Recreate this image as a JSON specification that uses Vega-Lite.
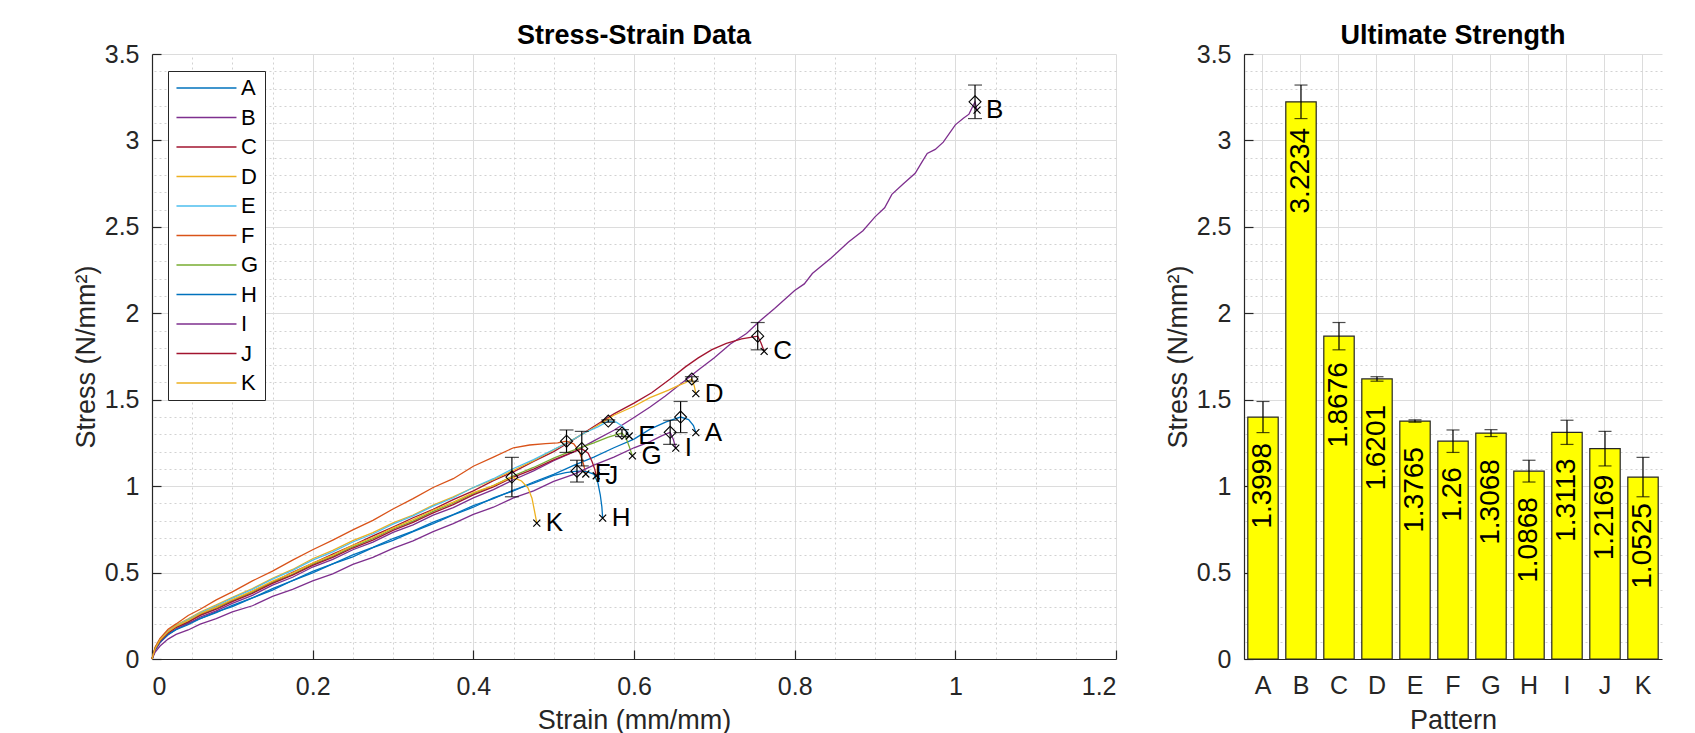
{
  "$schema": "https://vega.github.io/schema/vega-lite/v6.json",
  "background": "white",
  "padding": {"left": 72, "top": 22, "right": 5, "bottom": 0},
  "bounds": "flush",
  "spacing": 128,
  "config": {
    "font": "Liberation Sans",
    "view": {"stroke": null},
    "title": {"fontSize": 27, "fontWeight": "bold", "color": "#000000", "baseline": "alphabetic", "offset": -8, "anchor": "middle"},
    "axis": {
      "labelFont": "Liberation Sans", "labelFontSize": 25, "labelColor": "#262626",
      "titleFont": "Liberation Sans", "titleFontSize": 27, "titleFontWeight": "normal", "titleColor": "#262626",
      "domainColor": "#262626", "domainWidth": 1.2, "tickColor": "#262626", "tickWidth": 1.2, "tickSize": -9,
      "gridColor": "#dcdcdc", "gridWidth": 1
    }
  },
  "datasets": {
    "curves": [
      {"p":"A","strain":0,"stress":0},{"p":"A","strain":0.004,"stress":0.055},{"p":"A","strain":0.01,"stress":0.1},{"p":"A","strain":0.02,"stress":0.145},{"p":"A","strain":0.03,"stress":0.172},{"p":"A","strain":0.045,"stress":0.207},{"p":"A","strain":0.06,"stress":0.233},{"p":"A","strain":0.08,"stress":0.272},{"p":"A","strain":0.1,"stress":0.303},{"p":"A","strain":0.125,"stress":0.354},{"p":"A","strain":0.15,"stress":0.398},{"p":"A","strain":0.175,"stress":0.454},{"p":"A","strain":0.2,"stress":0.498},{"p":"A","strain":0.225,"stress":0.55},{"p":"A","strain":0.25,"stress":0.591},{"p":"A","strain":0.275,"stress":0.644},{"p":"A","strain":0.3,"stress":0.686},{"p":"A","strain":0.325,"stress":0.737},{"p":"A","strain":0.35,"stress":0.783},{"p":"A","strain":0.375,"stress":0.834},{"p":"A","strain":0.4,"stress":0.878},{"p":"A","strain":0.425,"stress":0.932},{"p":"A","strain":0.45,"stress":0.973},{"p":"A","strain":0.475,"stress":1.024},{"p":"A","strain":0.5,"stress":1.068},{"p":"A","strain":0.525,"stress":1.12},{"p":"A","strain":0.55,"stress":1.168},{"p":"A","strain":0.575,"stress":1.222},{"p":"A","strain":0.6,"stress":1.272},{"p":"A","strain":0.62,"stress":1.33},{"p":"A","strain":0.64,"stress":1.372},{"p":"A","strain":0.658,"stress":1.3998},{"p":"A","strain":0.668,"stress":1.385},{"p":"A","strain":0.674,"stress":1.35},{"p":"A","strain":0.677,"stress":1.31},
      {"p":"B","strain":0,"stress":0},{"p":"B","strain":0.004,"stress":0.05},{"p":"B","strain":0.01,"stress":0.095},{"p":"B","strain":0.02,"stress":0.14},{"p":"B","strain":0.03,"stress":0.172},{"p":"B","strain":0.045,"stress":0.203},{"p":"B","strain":0.06,"stress":0.242},{"p":"B","strain":0.08,"stress":0.278},{"p":"B","strain":0.1,"stress":0.322},{"p":"B","strain":0.125,"stress":0.368},{"p":"B","strain":0.15,"stress":0.427},{"p":"B","strain":0.175,"stress":0.473},{"p":"B","strain":0.2,"stress":0.532},{"p":"B","strain":0.225,"stress":0.576},{"p":"B","strain":0.25,"stress":0.632},{"p":"B","strain":0.275,"stress":0.676},{"p":"B","strain":0.3,"stress":0.732},{"p":"B","strain":0.325,"stress":0.776},{"p":"B","strain":0.35,"stress":0.832},{"p":"B","strain":0.375,"stress":0.876},{"p":"B","strain":0.4,"stress":0.932},{"p":"B","strain":0.425,"stress":0.98},{"p":"B","strain":0.45,"stress":1.037},{"p":"B","strain":0.475,"stress":1.088},{"p":"B","strain":0.5,"stress":1.147},{"p":"B","strain":0.525,"stress":1.198},{"p":"B","strain":0.55,"stress":1.262},{"p":"B","strain":0.575,"stress":1.323},{"p":"B","strain":0.6,"stress":1.397},{"p":"B","strain":0.62,"stress":1.458},{"p":"B","strain":0.639,"stress":1.522},{"p":"B","strain":0.66,"stress":1.598},{"p":"B","strain":0.68,"stress":1.672},{"p":"B","strain":0.7,"stress":1.743},{"p":"B","strain":0.72,"stress":1.822},{"p":"B","strain":0.74,"stress":1.883},{"p":"B","strain":0.757,"stress":1.957},{"p":"B","strain":0.775,"stress":2.028},{"p":"B","strain":0.8,"stress":2.132},{"p":"B","strain":0.812,"stress":2.17},{"p":"B","strain":0.822,"stress":2.23},{"p":"B","strain":0.845,"stress":2.318},{"p":"B","strain":0.867,"stress":2.412},{"p":"B","strain":0.885,"stress":2.478},{"p":"B","strain":0.9,"stress":2.558},{"p":"B","strain":0.912,"stress":2.61},{"p":"B","strain":0.921,"stress":2.688},{"p":"B","strain":0.935,"stress":2.748},{"p":"B","strain":0.95,"stress":2.81},{"p":"B","strain":0.958,"stress":2.872},{"p":"B","strain":0.965,"stress":2.925},{"p":"B","strain":0.975,"stress":2.948},{"p":"B","strain":0.985,"stress":2.99},{"p":"B","strain":1.0,"stress":3.09},{"p":"B","strain":1.01,"stress":3.128},{"p":"B","strain":1.017,"stress":3.152},{"p":"B","strain":1.0245,"stress":3.2234},{"p":"B","strain":1.027,"stress":3.175},
      {"p":"C","strain":0,"stress":0},{"p":"C","strain":0.004,"stress":0.06},{"p":"C","strain":0.01,"stress":0.11},{"p":"C","strain":0.02,"stress":0.16},{"p":"C","strain":0.03,"stress":0.188},{"p":"C","strain":0.045,"stress":0.227},{"p":"C","strain":0.06,"stress":0.258},{"p":"C","strain":0.08,"stress":0.302},{"p":"C","strain":0.1,"stress":0.338},{"p":"C","strain":0.125,"stress":0.392},{"p":"C","strain":0.15,"stress":0.443},{"p":"C","strain":0.175,"stress":0.502},{"p":"C","strain":0.2,"stress":0.553},{"p":"C","strain":0.225,"stress":0.607},{"p":"C","strain":0.25,"stress":0.658},{"p":"C","strain":0.275,"stress":0.712},{"p":"C","strain":0.3,"stress":0.763},{"p":"C","strain":0.325,"stress":0.817},{"p":"C","strain":0.35,"stress":0.866},{"p":"C","strain":0.375,"stress":0.922},{"p":"C","strain":0.4,"stress":0.973},{"p":"C","strain":0.425,"stress":1.032},{"p":"C","strain":0.45,"stress":1.083},{"p":"C","strain":0.475,"stress":1.143},{"p":"C","strain":0.5,"stress":1.2},{"p":"C","strain":0.525,"stress":1.27},{"p":"C","strain":0.55,"stress":1.345},{"p":"C","strain":0.575,"stress":1.418},{"p":"C","strain":0.6,"stress":1.48},{"p":"C","strain":0.622,"stress":1.54},{"p":"C","strain":0.645,"stress":1.62},{"p":"C","strain":0.664,"stress":1.69},{"p":"C","strain":0.68,"stress":1.742},{"p":"C","strain":0.697,"stress":1.79},{"p":"C","strain":0.715,"stress":1.826},{"p":"C","strain":0.734,"stress":1.852},{"p":"C","strain":0.747,"stress":1.862},{"p":"C","strain":0.754,"stress":1.8676},{"p":"C","strain":0.758,"stress":1.83},{"p":"C","strain":0.762,"stress":1.78},
      {"p":"D","strain":0,"stress":0},{"p":"D","strain":0.004,"stress":0.065},{"p":"D","strain":0.01,"stress":0.115},{"p":"D","strain":0.02,"stress":0.165},{"p":"D","strain":0.03,"stress":0.197},{"p":"D","strain":0.045,"stress":0.233},{"p":"D","strain":0.06,"stress":0.272},{"p":"D","strain":0.08,"stress":0.313},{"p":"D","strain":0.1,"stress":0.357},{"p":"D","strain":0.125,"stress":0.408},{"p":"D","strain":0.15,"stress":0.467},{"p":"D","strain":0.175,"stress":0.518},{"p":"D","strain":0.2,"stress":0.58},{"p":"D","strain":0.225,"stress":0.628},{"p":"D","strain":0.25,"stress":0.685},{"p":"D","strain":0.275,"stress":0.731},{"p":"D","strain":0.3,"stress":0.787},{"p":"D","strain":0.325,"stress":0.833},{"p":"D","strain":0.35,"stress":0.89},{"p":"D","strain":0.375,"stress":0.938},{"p":"D","strain":0.4,"stress":0.992},{"p":"D","strain":0.425,"stress":1.038},{"p":"D","strain":0.45,"stress":1.092},{"p":"D","strain":0.475,"stress":1.148},{"p":"D","strain":0.5,"stress":1.21},{"p":"D","strain":0.525,"stress":1.272},{"p":"D","strain":0.55,"stress":1.338},{"p":"D","strain":0.575,"stress":1.41},{"p":"D","strain":0.6,"stress":1.462},{"p":"D","strain":0.62,"stress":1.512},{"p":"D","strain":0.643,"stress":1.556},{"p":"D","strain":0.655,"stress":1.582},{"p":"D","strain":0.664,"stress":1.598},{"p":"D","strain":0.672,"stress":1.6201},{"p":"D","strain":0.675,"stress":1.58},{"p":"D","strain":0.677,"stress":1.535},
      {"p":"E","strain":0,"stress":0},{"p":"E","strain":0.004,"stress":0.065},{"p":"E","strain":0.01,"stress":0.115},{"p":"E","strain":0.02,"stress":0.16},{"p":"E","strain":0.03,"stress":0.192},{"p":"E","strain":0.045,"stress":0.228},{"p":"E","strain":0.06,"stress":0.267},{"p":"E","strain":0.08,"stress":0.308},{"p":"E","strain":0.1,"stress":0.352},{"p":"E","strain":0.125,"stress":0.403},{"p":"E","strain":0.15,"stress":0.462},{"p":"E","strain":0.175,"stress":0.513},{"p":"E","strain":0.2,"stress":0.572},{"p":"E","strain":0.225,"stress":0.62},{"p":"E","strain":0.25,"stress":0.677},{"p":"E","strain":0.275,"stress":0.723},{"p":"E","strain":0.3,"stress":0.78},{"p":"E","strain":0.325,"stress":0.828},{"p":"E","strain":0.35,"stress":0.884},{"p":"E","strain":0.375,"stress":0.933},{"p":"E","strain":0.4,"stress":0.992},{"p":"E","strain":0.425,"stress":1.043},{"p":"E","strain":0.45,"stress":1.102},{"p":"E","strain":0.475,"stress":1.153},{"p":"E","strain":0.5,"stress":1.212},{"p":"E","strain":0.52,"stress":1.258},{"p":"E","strain":0.54,"stress":1.312},{"p":"E","strain":0.555,"stress":1.343},{"p":"E","strain":0.568,"stress":1.3765},{"p":"E","strain":0.578,"stress":1.37},{"p":"E","strain":0.586,"stress":1.345},{"p":"E","strain":0.591,"stress":1.315},{"p":"E","strain":0.594,"stress":1.29},
      {"p":"F","strain":0,"stress":0},{"p":"F","strain":0.004,"stress":0.07},{"p":"F","strain":0.01,"stress":0.12},{"p":"F","strain":0.02,"stress":0.172},{"p":"F","strain":0.03,"stress":0.203},{"p":"F","strain":0.045,"stress":0.252},{"p":"F","strain":0.06,"stress":0.288},{"p":"F","strain":0.08,"stress":0.342},{"p":"F","strain":0.1,"stress":0.388},{"p":"F","strain":0.125,"stress":0.452},{"p":"F","strain":0.15,"stress":0.508},{"p":"F","strain":0.175,"stress":0.572},{"p":"F","strain":0.2,"stress":0.632},{"p":"F","strain":0.225,"stress":0.688},{"p":"F","strain":0.25,"stress":0.747},{"p":"F","strain":0.275,"stress":0.802},{"p":"F","strain":0.3,"stress":0.868},{"p":"F","strain":0.325,"stress":0.928},{"p":"F","strain":0.35,"stress":0.992},{"p":"F","strain":0.375,"stress":1.043},{"p":"F","strain":0.4,"stress":1.115},{"p":"F","strain":0.425,"stress":1.168},{"p":"F","strain":0.45,"stress":1.222},{"p":"F","strain":0.47,"stress":1.238},{"p":"F","strain":0.49,"stress":1.246},{"p":"F","strain":0.505,"stress":1.25},{"p":"F","strain":0.516,"stress":1.26},{"p":"F","strain":0.525,"stress":1.245},{"p":"F","strain":0.532,"stress":1.2},{"p":"F","strain":0.537,"stress":1.13},{"p":"F","strain":0.54,"stress":1.07},
      {"p":"G","strain":0,"stress":0},{"p":"G","strain":0.004,"stress":0.06},{"p":"G","strain":0.01,"stress":0.108},{"p":"G","strain":0.02,"stress":0.152},{"p":"G","strain":0.03,"stress":0.184},{"p":"G","strain":0.045,"stress":0.216},{"p":"G","strain":0.06,"stress":0.254},{"p":"G","strain":0.08,"stress":0.293},{"p":"G","strain":0.1,"stress":0.337},{"p":"G","strain":0.125,"stress":0.385},{"p":"G","strain":0.15,"stress":0.442},{"p":"G","strain":0.175,"stress":0.49},{"p":"G","strain":0.2,"stress":0.547},{"p":"G","strain":0.225,"stress":0.594},{"p":"G","strain":0.25,"stress":0.649},{"p":"G","strain":0.275,"stress":0.696},{"p":"G","strain":0.3,"stress":0.752},{"p":"G","strain":0.325,"stress":0.798},{"p":"G","strain":0.35,"stress":0.854},{"p":"G","strain":0.375,"stress":0.901},{"p":"G","strain":0.4,"stress":0.957},{"p":"G","strain":0.425,"stress":1.003},{"p":"G","strain":0.45,"stress":1.06},{"p":"G","strain":0.475,"stress":1.108},{"p":"G","strain":0.5,"stress":1.162},{"p":"G","strain":0.52,"stress":1.2},{"p":"G","strain":0.535,"stress":1.226},{"p":"G","strain":0.55,"stress":1.25},{"p":"G","strain":0.568,"stress":1.284},{"p":"G","strain":0.585,"stress":1.3068},{"p":"G","strain":0.59,"stress":1.28},{"p":"G","strain":0.594,"stress":1.23},{"p":"G","strain":0.598,"stress":1.175},
      {"p":"H","strain":0,"stress":0},{"p":"H","strain":0.004,"stress":0.055},{"p":"H","strain":0.01,"stress":0.098},{"p":"H","strain":0.02,"stress":0.14},{"p":"H","strain":0.03,"stress":0.17},{"p":"H","strain":0.045,"stress":0.198},{"p":"H","strain":0.06,"stress":0.234},{"p":"H","strain":0.08,"stress":0.268},{"p":"H","strain":0.1,"stress":0.31},{"p":"H","strain":0.125,"stress":0.353},{"p":"H","strain":0.15,"stress":0.407},{"p":"H","strain":0.175,"stress":0.453},{"p":"H","strain":0.2,"stress":0.507},{"p":"H","strain":0.225,"stress":0.55},{"p":"H","strain":0.25,"stress":0.602},{"p":"H","strain":0.275,"stress":0.646},{"p":"H","strain":0.3,"stress":0.697},{"p":"H","strain":0.325,"stress":0.74},{"p":"H","strain":0.35,"stress":0.792},{"p":"H","strain":0.375,"stress":0.836},{"p":"H","strain":0.4,"stress":0.887},{"p":"H","strain":0.425,"stress":0.928},{"p":"H","strain":0.45,"stress":0.977},{"p":"H","strain":0.475,"stress":1.018},{"p":"H","strain":0.5,"stress":1.062},{"p":"H","strain":0.515,"stress":1.078},{"p":"H","strain":0.529,"stress":1.0868},{"p":"H","strain":0.54,"stress":1.085},{"p":"H","strain":0.55,"stress":1.07},{"p":"H","strain":0.555,"stress":1.02},{"p":"H","strain":0.558,"stress":0.95},{"p":"H","strain":0.56,"stress":0.88},{"p":"H","strain":0.561,"stress":0.815},
      {"p":"I","strain":0,"stress":0},{"p":"I","strain":0.004,"stress":0.04},{"p":"I","strain":0.01,"stress":0.075},{"p":"I","strain":0.02,"stress":0.115},{"p":"I","strain":0.03,"stress":0.142},{"p":"I","strain":0.045,"stress":0.168},{"p":"I","strain":0.06,"stress":0.202},{"p":"I","strain":0.08,"stress":0.233},{"p":"I","strain":0.1,"stress":0.272},{"p":"I","strain":0.125,"stress":0.308},{"p":"I","strain":0.15,"stress":0.362},{"p":"I","strain":0.175,"stress":0.403},{"p":"I","strain":0.2,"stress":0.452},{"p":"I","strain":0.225,"stress":0.493},{"p":"I","strain":0.25,"stress":0.547},{"p":"I","strain":0.275,"stress":0.588},{"p":"I","strain":0.3,"stress":0.64},{"p":"I","strain":0.325,"stress":0.683},{"p":"I","strain":0.35,"stress":0.737},{"p":"I","strain":0.375,"stress":0.783},{"p":"I","strain":0.4,"stress":0.837},{"p":"I","strain":0.425,"stress":0.878},{"p":"I","strain":0.45,"stress":0.932},{"p":"I","strain":0.475,"stress":0.973},{"p":"I","strain":0.5,"stress":1.027},{"p":"I","strain":0.525,"stress":1.068},{"p":"I","strain":0.55,"stress":1.122},{"p":"I","strain":0.575,"stress":1.168},{"p":"I","strain":0.6,"stress":1.222},{"p":"I","strain":0.62,"stress":1.258},{"p":"I","strain":0.635,"stress":1.292},{"p":"I","strain":0.645,"stress":1.3113},{"p":"I","strain":0.649,"stress":1.27},{"p":"I","strain":0.652,"stress":1.22},
      {"p":"J","strain":0,"stress":0},{"p":"J","strain":0.004,"stress":0.06},{"p":"J","strain":0.01,"stress":0.105},{"p":"J","strain":0.02,"stress":0.15},{"p":"J","strain":0.03,"stress":0.182},{"p":"J","strain":0.045,"stress":0.213},{"p":"J","strain":0.06,"stress":0.252},{"p":"J","strain":0.08,"stress":0.288},{"p":"J","strain":0.1,"stress":0.332},{"p":"J","strain":0.125,"stress":0.38},{"p":"J","strain":0.15,"stress":0.437},{"p":"J","strain":0.175,"stress":0.485},{"p":"J","strain":0.2,"stress":0.542},{"p":"J","strain":0.225,"stress":0.588},{"p":"J","strain":0.25,"stress":0.642},{"p":"J","strain":0.275,"stress":0.688},{"p":"J","strain":0.3,"stress":0.744},{"p":"J","strain":0.325,"stress":0.79},{"p":"J","strain":0.35,"stress":0.845},{"p":"J","strain":0.375,"stress":0.893},{"p":"J","strain":0.4,"stress":0.949},{"p":"J","strain":0.425,"stress":0.996},{"p":"J","strain":0.45,"stress":1.052},{"p":"J","strain":0.475,"stress":1.098},{"p":"J","strain":0.5,"stress":1.152},{"p":"J","strain":0.52,"stress":1.19},{"p":"J","strain":0.535,"stress":1.2169},{"p":"J","strain":0.543,"stress":1.19},{"p":"J","strain":0.548,"stress":1.14},{"p":"J","strain":0.551,"stress":1.1},{"p":"J","strain":0.553,"stress":1.06},
      {"p":"K","strain":0,"stress":0},{"p":"K","strain":0.004,"stress":0.06},{"p":"K","strain":0.01,"stress":0.11},{"p":"K","strain":0.02,"stress":0.158},{"p":"K","strain":0.03,"stress":0.19},{"p":"K","strain":0.045,"stress":0.223},{"p":"K","strain":0.06,"stress":0.262},{"p":"K","strain":0.08,"stress":0.3},{"p":"K","strain":0.1,"stress":0.344},{"p":"K","strain":0.125,"stress":0.393},{"p":"K","strain":0.15,"stress":0.45},{"p":"K","strain":0.175,"stress":0.498},{"p":"K","strain":0.2,"stress":0.555},{"p":"K","strain":0.225,"stress":0.601},{"p":"K","strain":0.25,"stress":0.657},{"p":"K","strain":0.275,"stress":0.703},{"p":"K","strain":0.3,"stress":0.759},{"p":"K","strain":0.325,"stress":0.806},{"p":"K","strain":0.35,"stress":0.862},{"p":"K","strain":0.375,"stress":0.908},{"p":"K","strain":0.4,"stress":0.962},{"p":"K","strain":0.425,"stress":1.003},{"p":"K","strain":0.448,"stress":1.0525},{"p":"K","strain":0.46,"stress":1.03},{"p":"K","strain":0.468,"stress":0.99},{"p":"K","strain":0.473,"stress":0.93},{"p":"K","strain":0.476,"stress":0.86},{"p":"K","strain":0.479,"stress":0.786}
    ],
    "summary": [
      {"p":"A","ult":1.3998,"lo":1.3098,"hi":1.4898,"us":0.658,"es":0.677,"et":1.31,"lab":"1.3998"},
      {"p":"B","ult":3.2234,"lo":3.1264,"hi":3.3204,"us":1.0245,"es":1.027,"et":3.175,"lab":"3.2234"},
      {"p":"C","ult":1.8676,"lo":1.7886,"hi":1.9466,"us":0.754,"es":0.762,"et":1.78,"lab":"1.8676"},
      {"p":"D","ult":1.6201,"lo":1.6071,"hi":1.6331,"us":0.672,"es":0.677,"et":1.535,"lab":"1.6201"},
      {"p":"E","ult":1.3765,"lo":1.3695,"hi":1.3835,"us":0.568,"es":0.594,"et":1.29,"lab":"1.3765"},
      {"p":"F","ult":1.26,"lo":1.195,"hi":1.325,"us":0.516,"es":0.54,"et":1.07,"lab":"1.26"},
      {"p":"G","ult":1.3068,"lo":1.2868,"hi":1.3268,"us":0.585,"es":0.598,"et":1.175,"lab":"1.3068"},
      {"p":"H","ult":1.0868,"lo":1.0238,"hi":1.1498,"us":0.529,"es":0.561,"et":0.815,"lab":"1.0868"},
      {"p":"I","ult":1.3113,"lo":1.2413,"hi":1.3813,"us":0.645,"es":0.652,"et":1.22,"lab":"1.3113"},
      {"p":"J","ult":1.2169,"lo":1.1169,"hi":1.3169,"us":0.535,"es":0.553,"et":1.06,"lab":"1.2169"},
      {"p":"K","ult":1.0525,"lo":0.9385,"hi":1.1665,"us":0.448,"es":0.479,"et":0.786,"lab":"1.0525"}
    ]
  },
  "hconcat": [
    {
      "width": 964,
      "height": 605,
      "title": "Stress-Strain Data",
      "resolve": {"axis": {"x": "independent", "y": "independent"}},
      "layer": [
        {
          "data": {"name": "curves"},
          "mark": {"type": "line", "strokeWidth": 1.3},
          "encoding": {
            "x": {"field": "strain", "type": "quantitative",
              "scale": {"domain": [0, 1.2], "nice": false, "zero": false},
              "axis": {"orient": "bottom", "values": [0, 0.2, 0.4, 0.6, 0.8, 1, 1.2], "format": "~g", "title": "Strain (mm/mm)", "grid": true, "labelPadding": 24, "titlePadding": 8}},
            "y": {"field": "stress", "type": "quantitative",
              "scale": {"domain": [0, 3.5], "nice": false, "zero": false},
              "axis": {"orient": "left", "values": [0, 0.5, 1, 1.5, 2, 2.5, 3, 3.5], "format": "~g", "title": "Stress (N/mm²)", "grid": true, "labelPadding": 22, "titlePadding": 4}},
            "color": {"field": "p", "type": "nominal",
              "scale": {"domain": ["A","B","C","D","E","F","G","H","I","J","K"], "range": ["#0072BD","#7E2F8E","#A2142F","#EDB120","#4DBEEE","#D95319","#77AC30","#0072BD","#7E2F8E","#A2142F","#EDB120"]},
              "legend": {"orient": "none", "legendX": 16, "legendY": 17, "title": null, "direction": "vertical", "columns": 1,
                "symbolType": "M-1.42,0H8.58", "symbolSize": 144, "symbolStrokeWidth": 1.5, "symbolFillColor": "transparent",
                "labelFontSize": 22, "labelColor": "#000000", "labelOffset": 45, "rowPadding": 7.5,
                "strokeColor": "#262626", "fillColor": "#ffffff", "padding": 6}}
          }
        },
        {
          "data": {"name": "summary"},
          "mark": {"type": "rule", "color": "#000000", "strokeWidth": 1.2},
          "encoding": {
            "x": {"field": "us", "type": "quantitative",
              "axis": {"orient": "top", "values": [0.05,0.1,0.15,0.25,0.3,0.35,0.45,0.5,0.55,0.65,0.7,0.75,0.85,0.9,0.95,1.05,1.1,1.15], "grid": true, "gridDash": [2,3], "gridColor": "#d2d2d2", "labels": false, "ticks": false, "domain": false, "title": null}},
            "y": {"field": "lo", "type": "quantitative",
              "axis": {"orient": "right", "values": [0.1,0.2,0.3,0.4,0.6,0.7,0.8,0.9,1.1,1.2,1.3,1.4,1.6,1.7,1.8,1.9,2.1,2.2,2.3,2.4,2.6,2.7,2.8,2.9,3.1,3.2,3.3,3.4], "grid": true, "gridDash": [2,3], "gridColor": "#d2d2d2", "labels": false, "ticks": false, "domain": false, "title": null}},
            "y2": {"field": "hi"}
          }
        },
        {
          "data": {"name": "summary"},
          "mark": {"type": "tick", "orient": "horizontal", "size": 14, "thickness": 1.2, "color": "#000000"},
          "encoding": {
            "x": {"field": "us", "type": "quantitative", "axis": null},
            "y": {"field": "lo", "type": "quantitative", "axis": null}
          }
        },
        {
          "data": {"name": "summary"},
          "mark": {"type": "tick", "orient": "horizontal", "size": 14, "thickness": 1.2, "color": "#000000"},
          "encoding": {
            "x": {"field": "us", "type": "quantitative", "axis": null},
            "y": {"field": "hi", "type": "quantitative", "axis": null}
          }
        },
        {
          "data": {"name": "summary"},
          "mark": {"type": "point", "shape": "diamond", "filled": false, "size": 144, "color": "#000000", "strokeWidth": 1.1, "opacity": 1},
          "encoding": {
            "x": {"field": "us", "type": "quantitative", "axis": null},
            "y": {"field": "ult", "type": "quantitative", "axis": null}
          }
        },
        {
          "data": {"name": "summary"},
          "mark": {"type": "point", "shape": "M-1,-1L1,1M-1,1L1,-1", "filled": false, "size": 49, "color": "#000000", "strokeWidth": 1.2, "opacity": 1},
          "encoding": {
            "x": {"field": "es", "type": "quantitative", "axis": null},
            "y": {"field": "et", "type": "quantitative", "axis": null}
          }
        },
        {
          "data": {"name": "summary"},
          "mark": {"type": "text", "align": "left", "baseline": "middle", "dx": 9, "fontSize": 26, "font": "Liberation Sans", "color": "#000000"},
          "encoding": {
            "x": {"field": "es", "type": "quantitative", "axis": null},
            "y": {"field": "et", "type": "quantitative", "axis": null},
            "text": {"field": "p"}
          }
        }
      ]
    },
    {
      "width": 418,
      "height": 605,
      "title": "Ultimate Strength",
      "data": {"name": "summary"},
      "resolve": {"axis": {"x": "independent", "y": "independent"}},
      "layer": [
        {
          "mark": {"type": "bar", "fill": "#ffff00", "stroke": "#262626", "strokeWidth": 1.2},
          "encoding": {
            "x": {"field": "p", "type": "nominal", "sort": null,
              "scale": {"paddingInner": 0.2, "paddingOuter": 0.1},
              "axis": {"orient": "bottom", "title": "Pattern", "labelAngle": 0, "grid": true, "bandPosition": 0.5, "ticks": false, "labelPadding": 14, "titlePadding": 9}},
            "y": {"field": "ult", "type": "quantitative",
              "scale": {"domain": [0, 3.5], "nice": false, "zero": false},
              "axis": {"orient": "left", "values": [0, 0.5, 1, 1.5, 2, 2.5, 3, 3.5], "format": "~g", "title": "Stress (N/mm²)", "grid": true, "labelPadding": 22, "titlePadding": 4}}
          }
        },
        {
          "mark": {"type": "rule", "color": "#000000", "strokeWidth": 1.2},
          "encoding": {
            "x": {"field": "p", "type": "nominal", "sort": null, "axis": null},
            "y": {"field": "lo", "type": "quantitative",
              "axis": {"orient": "right", "values": [0.1,0.2,0.3,0.4,0.6,0.7,0.8,0.9,1.1,1.2,1.3,1.4,1.6,1.7,1.8,1.9,2.1,2.2,2.3,2.4,2.6,2.7,2.8,2.9,3.1,3.2,3.3,3.4], "grid": true, "gridDash": [2,3], "gridColor": "#d2d2d2", "labels": false, "ticks": false, "domain": false, "title": null}},
            "y2": {"field": "hi"}
          }
        },
        {
          "mark": {"type": "tick", "orient": "horizontal", "size": 13, "thickness": 1.2, "color": "#000000"},
          "encoding": {
            "x": {"field": "p", "type": "nominal", "sort": null, "axis": null},
            "y": {"field": "lo", "type": "quantitative", "axis": null}
          }
        },
        {
          "mark": {"type": "tick", "orient": "horizontal", "size": 13, "thickness": 1.2, "color": "#000000"},
          "encoding": {
            "x": {"field": "p", "type": "nominal", "sort": null, "axis": null},
            "y": {"field": "hi", "type": "quantitative", "axis": null}
          }
        },
        {
          "mark": {"type": "text", "angle": 270, "align": "right", "baseline": "middle", "dx": -26, "fontSize": 28, "font": "Liberation Sans", "color": "#000000"},
          "encoding": {
            "x": {"field": "p", "type": "nominal", "sort": null, "axis": null},
            "y": {"field": "ult", "type": "quantitative", "axis": null},
            "text": {"field": "lab"}
          }
        }
      ]
    }
  ]
}
